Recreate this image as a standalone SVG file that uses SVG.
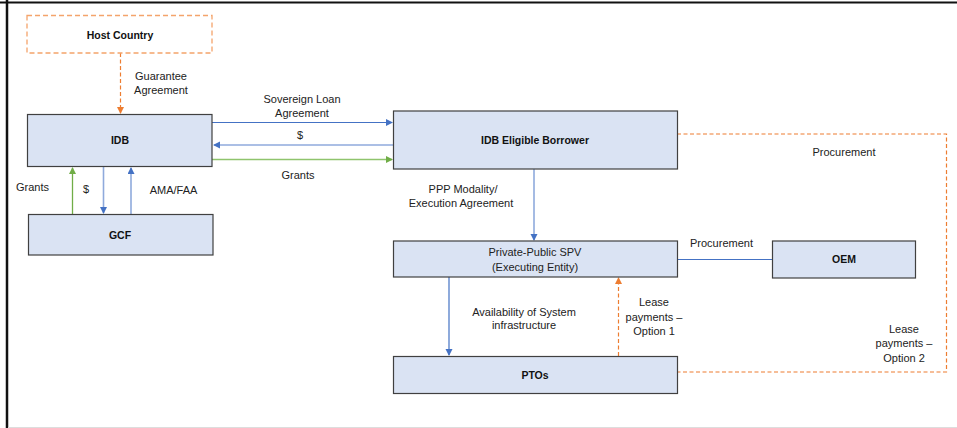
<svg xmlns="http://www.w3.org/2000/svg" width="957" height="428" viewBox="0 0 957 428">
<style>
.box{fill:#dae3f3;stroke:#404040;stroke-width:1.2}
.hc{fill:none;stroke:#f4a46b;stroke-width:1.3;stroke-dasharray:5,3}
.t{font-family:"Liberation Sans",Arial,sans-serif;font-size:11px;fill:#222;text-anchor:middle}
.b{font-weight:bold;font-size:10.5px;fill:#111}
.blue{stroke:#4472c4;stroke-width:1.2;fill:none}
.lblue{stroke:#8faadc;stroke-width:1.6;fill:none}
.green{stroke:#70ad47;stroke-width:1.3;fill:none}
.lgreen{stroke:#8fc46d;stroke-width:1.6;fill:none}
.orange{stroke:#ed7d31;stroke-width:1.2;fill:none;stroke-dasharray:4,2.5}
</style>
<defs>
<marker id="ab" markerWidth="8" markerHeight="8" refX="6" refY="3.5" orient="auto" markerUnits="userSpaceOnUse"><path d="M0,0 L7,3.5 L0,7 z" fill="#4472c4"/></marker>
<marker id="ag" markerWidth="8" markerHeight="8" refX="6" refY="3.5" orient="auto" markerUnits="userSpaceOnUse"><path d="M0,0 L7,3.5 L0,7 z" fill="#70ad47"/></marker>
<marker id="ao" markerWidth="8" markerHeight="8" refX="6" refY="3.5" orient="auto" markerUnits="userSpaceOnUse"><path d="M0,0 L7,3.5 L0,7 z" fill="#ed7d31"/></marker>
</defs>
<rect width="957" height="428" fill="#fff"/>
<line x1="0" y1="2.5" x2="957" y2="2.5" stroke="#111" stroke-width="2"/>
<line x1="7" y1="0" x2="7" y2="428" stroke="#111" stroke-width="2.5"/>
<line x1="8" y1="427.5" x2="957" y2="427.5" stroke="#ddd" stroke-width="1"/>

<g id="connectors">
<line class="orange" x1="120.5" y1="53" x2="120.5" y2="113" marker-end="url(#ao)"/>
<line class="blue" x1="212" y1="122.5" x2="392" y2="122.5" marker-end="url(#ab)"/>
<line class="lblue" x1="393" y1="145" x2="214" y2="145" marker-end="url(#ab)"/>
<line class="lgreen" x1="212" y1="159.5" x2="392" y2="159.5" marker-end="url(#ag)"/>
<line class="green" x1="72.5" y1="214" x2="72.5" y2="168" marker-end="url(#ag)"/>
<line class="lblue" x1="103.5" y1="167" x2="103.5" y2="213" marker-end="url(#ab)"/>
<line class="lblue" x1="131" y1="214" x2="131" y2="168" marker-end="url(#ab)"/>
<line class="lblue" x1="534" y1="169" x2="534" y2="240" marker-end="url(#ab)"/>
<line class="blue" x1="677" y1="259.5" x2="772" y2="259.5" stroke-width="1"/>
<line class="blue" x1="449" y1="277" x2="449" y2="355" marker-end="url(#ab)"/>
<line class="orange" x1="618.5" y1="356" x2="618.5" y2="278" marker-end="url(#ao)"/>
<polyline class="orange" points="677,134 946.5,134 946.5,372 677,372"/>
</g>

<g id="host-country"><rect class="hc" x="27" y="15.5" width="185" height="37.5"/><text class="t b" x="120" y="39">Host Country</text></g>
<g id="idb"><rect class="box" x="27.5" y="114.5" width="184.5" height="52"/><text class="t b" x="120" y="144">IDB</text></g>
<g id="gcf"><rect class="box" x="28.5" y="214.5" width="184.5" height="40.5"/><text class="t b" x="120" y="239">GCF</text></g>
<g id="idb-eligible-borrower"><rect class="box" x="393.5" y="111" width="284" height="58"/><text class="t b" x="535" y="144">IDB Eligible Borrower</text></g>
<g id="spv"><rect class="box" x="393.5" y="241" width="284" height="36"/><text class="t" x="535" y="256">Private-Public SPV</text><text class="t" x="535" y="271">(Executing Entity)</text></g>
<g id="oem"><rect class="box" x="772.5" y="241" width="143" height="37"/><text class="t b" x="844" y="263">OEM</text></g>
<g id="ptos"><rect class="box" x="393.5" y="356.5" width="284" height="37"/><text class="t b" x="535" y="379">PTOs</text></g>

<g id="labels">
<text class="t" x="161" y="80">Guarantee</text>
<text class="t" x="161" y="94">Agreement</text>
<text class="t" x="302" y="103">Sovereign Loan</text>
<text class="t" x="302" y="117">Agreement</text>
<text class="t" x="300" y="139">$</text>
<text class="t" x="298" y="179">Grants</text>
<text class="t" x="32.5" y="190.5">Grants</text>
<text class="t" x="86" y="193">$</text>
<text class="t" x="173.5" y="194">AMA/FAA</text>
<text class="t" x="463" y="193">PPP Modality/</text>
<text class="t" x="461" y="207">Execution Agreement</text>
<text class="t" x="721.5" y="247">Procurement</text>
<text class="t" x="844" y="156">Procurement</text>
<text class="t" x="524" y="315.5">Availability of System</text>
<text class="t" x="524" y="329">infrastructure</text>
<text class="t" x="654" y="306">Lease</text>
<text class="t" x="654" y="320.5">payments –</text>
<text class="t" x="654" y="335">Option 1</text>
<text class="t" x="904" y="333">Lease</text>
<text class="t" x="904" y="347">payments –</text>
<text class="t" x="904" y="362">Option 2</text>
</g>
</svg>
